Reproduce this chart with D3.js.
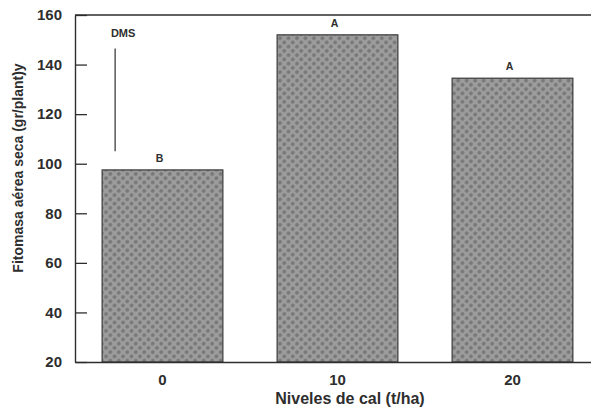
<!DOCTYPE html>
<html>
<head>
<meta charset="utf-8">
<script src="https://cdn.jsdelivr.net/npm/d3@7"></script>
<style>
  body { margin: 0; background: #fff; }
  svg { display: block; font-family: "Liberation Sans", Arial, sans-serif; font-weight: bold; }
</style>
</head>
<body>
<svg id="chart" width="591" height="413"></svg>
<script>
// data
const levels = ["0", "10", "20"];
const biomass = [97.5, 152, 134.5];
const groups = ["B", "A", "A"];
const yTicks = [20, 40, 60, 80, 100, 120, 140, 160];
const dmsBase = 105;
const dmsValue = 41.5;

const svg = d3.select("#chart");
const margin = { top: 15, right: -9, bottom: 51, left: 75 };
const width = 591, height = 413;
const ink = "#2e2e2e";

// halftone fill for the bars
const defs = svg.append("defs");
const pat = defs.append("pattern")
  .attr("id", "dots")
  .attr("width", 6).attr("height", 6)
  .attr("patternUnits", "userSpaceOnUse")
  .attr("patternTransform", "rotate(45)");
pat.append("rect").attr("width", 6).attr("height", 6).attr("fill", "#9d9d9d");
pat.append("circle").attr("cx", 3).attr("cy", 3).attr("r", 1.9).attr("fill", "#777");

const x = d3.scaleBand()
  .domain(levels)
  .range([margin.left, width - margin.right])
  .paddingInner(0.31)
  .paddingOuter(0.155);

const y = d3.scaleLinear()
  .domain([20, 160])
  .range([height - margin.bottom, margin.top]);

// bars
svg.selectAll("rect.bar")
  .data(levels)
  .join("rect")
  .attr("class", "bar")
  .attr("x", d => x(d))
  .attr("y", (d, i) => y(biomass[i]))
  .attr("width", x.bandwidth())
  .attr("height", (d, i) => y(20) - y(biomass[i]))
  .attr("fill", "url(#dots)")
  .attr("stroke", "#3a3a3a")
  .attr("stroke-width", 1.2);

// significance letters
svg.selectAll("text.grp")
  .data(levels)
  .join("text")
  .attr("class", "grp")
  .attr("x", d => x(d) + x.bandwidth() / 2 - 3)
  .attr("y", (d, i) => y(biomass[i]) - 8)
  .attr("text-anchor", "middle")
  .attr("font-size", 10.5)
  .attr("fill", ink)
  .text((d, i) => groups[i]);

// y axis, ticks pointing inward
const yAxis = svg.append("g")
  .attr("transform", `translate(${margin.left},0)`)
  .call(d3.axisRight(y).tickValues(yTicks).tickSize(12).tickSizeOuter(0));
yAxis.select(".domain").attr("stroke", ink).attr("stroke-width", 1.4);
yAxis.selectAll(".tick line").attr("stroke", ink).attr("stroke-width", 1.3);
yAxis.selectAll(".tick text")
  .attr("text-anchor", "end")
  .attr("x", -13)
  .attr("font-size", 15)
  .attr("font-family", "Liberation Sans, Arial, sans-serif")
  .attr("font-weight", "bold")
  .attr("fill", ink);

// x axis, no tick marks
const xAxis = svg.append("g")
  .attr("transform", `translate(0,${y(20)})`)
  .call(d3.axisBottom(x).tickSize(0).tickPadding(12).tickSizeOuter(0));
xAxis.select(".domain").attr("stroke", ink).attr("stroke-width", 1.4);
xAxis.selectAll(".tick text")
  .attr("font-size", 15)
  .attr("font-family", "Liberation Sans, Arial, sans-serif")
  .attr("font-weight", "bold")
  .attr("fill", ink);

// top frame line
svg.append("line")
  .attr("x1", margin.left).attr("x2", width)
  .attr("y1", y(160)).attr("y2", y(160))
  .attr("stroke", ink).attr("stroke-width", 1.3);

// DMS bar
const dmsX = x(levels[0]) + 13;
svg.append("line")
  .attr("x1", dmsX).attr("x2", dmsX)
  .attr("y1", y(dmsBase)).attr("y2", y(dmsBase + dmsValue))
  .attr("stroke", ink).attr("stroke-width", 1.2);
svg.append("text")
  .attr("x", dmsX + 8)
  .attr("y", y(dmsBase + dmsValue) - 11)
  .attr("text-anchor", "middle")
  .attr("font-size", 11)
  .attr("fill", ink)
  .text("DMS");

// axis titles
svg.append("text")
  .attr("x", 350)
  .attr("y", 404)
  .attr("text-anchor", "middle")
  .attr("font-size", 16)
  .attr("fill", ink)
  .text("Niveles de cal (t/ha)");

svg.append("text")
  .attr("transform", "translate(23,168) rotate(-90)")
  .attr("text-anchor", "middle")
  .attr("font-size", 14)
  .attr("fill", ink)
  .text("Fitomasa aérea seca (gr/plant)y");
</script>
</body>
</html>
